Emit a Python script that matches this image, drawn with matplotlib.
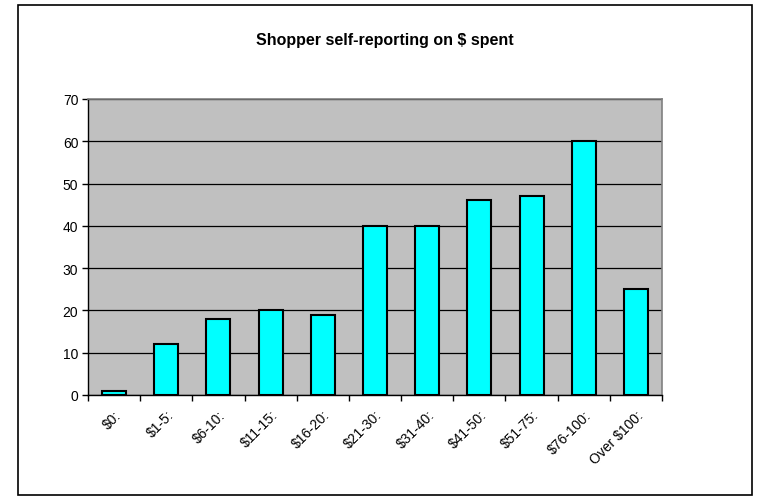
import numpy as np
import matplotlib.pyplot as plt

plt.rcParams['font.family'] = ['Liberation Sans', 'DejaVu Sans']

categories = ['$0:', '$1-5:', '$6-10:', '$11-15:', '$16-20:', '$21-30:',
              '$31-40:', '$41-50:', '$51-75:', '$76-100:', 'Over $100:']
values = [1, 12, 18, 20, 19, 40, 40, 46, 47, 60, 25]

fig = plt.figure(figsize=(7.69, 5.02), dpi=100)
# outer chart border
fig.patches.append(plt.Rectangle((18 / 769, 6 / 502), 734 / 769, 490 / 502,
                                 transform=fig.transFigure, fill=False,
                                 edgecolor='black', linewidth=1.2))

ax = fig.add_axes([88 / 769, 106 / 502, 574 / 769, 296 / 502])
ax.set_facecolor('#C0C0C0')

x = np.arange(len(values))
ax.bar(x, values, width=0.46, color='#00FFFF', edgecolor='black', linewidth=1.5, zorder=3)

ax.set_xlim(-0.5, len(values) - 0.5)
ax.set_ylim(0, 70)
ax.set_yticks(range(0, 71, 10))
ax.yaxis.grid(True, color='black', linewidth=0.9, zorder=1)
ax.set_axisbelow(True)

ax.set_xticks(x)
ax.set_xticklabels(categories, rotation=45, ha='right', rotation_mode='anchor', fontsize=10)
ax.set_xticks(np.arange(-0.5, len(values), 1), minor=True)
ax.tick_params(axis='x', which='major', length=0, pad=9)
ax.tick_params(axis='x', which='minor', length=4, width=1, direction='out')
ax.tick_params(axis='y', length=4, width=1, labelsize=10, pad=3)

for s in ['top', 'right']:
    ax.spines[s].set_color('#808080')
    ax.spines[s].set_linewidth(1.2)
for s in ['left', 'bottom']:
    ax.spines[s].set_color('black')
    ax.spines[s].set_linewidth(1)

fig.text(0.5, 1 - 41 / 502, 'Shopper self-reporting on $ spent', ha='center', va='center',
         fontsize=11.5, fontweight='bold')

fig.savefig('out.png', dpi=100)
